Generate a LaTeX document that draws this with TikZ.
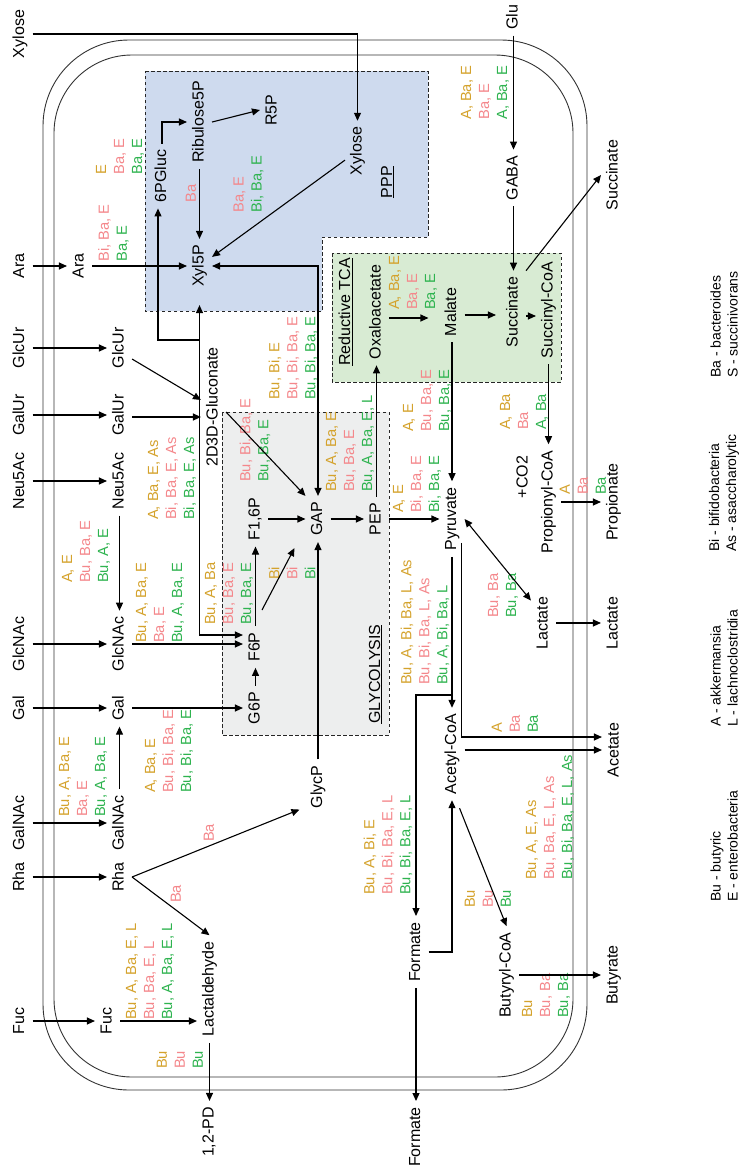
\documentclass[tikz,border=0pt]{standalone}
\usepackage{fontspec}
\setmainfont{Liberation Sans}
\usetikzlibrary{arrows.meta,calc}
\definecolor{cgold}{HTML}{D4A22C}
\definecolor{cpink}{HTML}{F4878B}
\definecolor{cgreen}{HTML}{2EB34F}
\definecolor{pppfill}{HTML}{CEDAEE}
\definecolor{tcafill}{HTML}{D8EBD3}
\definecolor{glyfill}{HTML}{EDEEEE}
\newcommand{\threelab}[3]{\textcolor{cgold}{#1}\\\textcolor{cpink}{#2}\\\textcolor{cgreen}{#3}}
\newcommand{\twolab}[2]{\textcolor{cpink}{#1}\\\textcolor{cgreen}{#2}}
\begin{document}
\begin{tikzpicture}[x=1pt,y=-1pt,
  lbl/.style={rotate=90, font=\fontsize{16}{19}\selectfont, inner xsep=6pt, inner ysep=5pt, text height=11.5pt, text depth=3.2pt},
  ulbl/.style={rotate=90, font=\fontsize{16}{19}\selectfont, inner sep=0pt},
  grp/.style={rotate=90, anchor=west, align=left, font=\fontsize{14.7}{18}\selectfont, inner sep=0pt},
  leg/.style={rotate=90, anchor=west, align=left, font=\fontsize{14}{17}\selectfont, inner sep=0pt},
  arr/.style={line width=1.1pt, -{Triangle[length=8pt,width=7pt]}},
  dbl/.style={line width=1.1pt, {Triangle[length=8pt,width=7pt]}-{Triangle[length=8pt,width=7pt]}},
  mem/.style={line width=0.9pt, black!80},
  boxline/.style={line width=0.8pt, dash pattern=on 3.5pt off 2.5pt, black!85},
]
\useasboundingbox (0,0) rectangle (739,1170);
% membranes
\draw[mem, rounded corners=86pt] (43,40) rectangle (587,1090);
\draw[mem, rounded corners=78pt] (54,55) rectangle (573,1077);
% pathway boxes
\draw[boxline, fill=pppfill] (145,71) -- (428,71) -- (428,237) -- (322,237) -- (322,311) -- (145,311) -- cycle;
\draw[boxline, fill=tcafill] (332,253) rectangle (561,382);
\draw[boxline, fill=glyfill] (222,412) rectangle (389,735);

% ---------- black labels ----------
\node[lbl] (XyloseO) at (20,34) {Xylose};
\node[lbl] (AraO) at (20,266) {Ara};
\node[lbl] (AraI) at (79.5,266) {Ara};
\node[lbl] (GlcUrO) at (20,348) {GlcUr};
\node[lbl] (GlcUrI) at (119.5,348) {GlcUr};
\node[lbl] (GalUrO) at (20,415) {GalUr};
\node[lbl] (GalUrI) at (119.5,415) {GalUr};
\node[lbl] (Neu5AcO) at (20,481) {Neu5Ac};
\node[lbl] (Neu5AcI) at (119.5,481) {Neu5Ac};
\node[lbl] (GlcNAcO) at (20,644) {GlcNAc};
\node[lbl] (GlcNAcI) at (119.5,644) {GlcNAc};
\node[lbl] (GalO) at (20,708) {Gal};
\node[lbl] (GalI) at (119.5,708) {Gal};
\node[lbl] (GalNAcO) at (20,823) {GalNAc};
\node[lbl] (GalNAcI) at (119.5,823) {GalNAc};
\node[lbl] (RhaO) at (20,877) {Rha};
\node[lbl] (RhaI) at (119.5,877) {Rha};
\node[lbl] (FucO) at (20,1021) {Fuc};
\node[lbl] (FucI) at (107.5,1021) {Fuc};
\node[lbl] (XyloseI) at (357.5,151) {Xylose};
\node[lbl] (Xyl5P) at (199.5,266) {Xyl5P};
\node[lbl] (Ribulose5P) at (199.5,122) {Ribulose5P};
\node[lbl] (PGluc) at (162,176) {6PGluc};
\node[lbl] (R5P) at (272.5,110) {R5P};
\node[lbl] (D2D3) at (213.5,407) {2D3D-Gluconate};
\node[lbl] (G6P) at (255.5,708) {G6P};
\node[lbl] (F6P) at (255.5,647) {F6P};
\node[lbl] (F16P) at (255.5,519) {F1,6P};
\node[lbl] (GAP) at (318,519) {GAP};
\node[lbl] (GlycP) at (318,787) {GlycP};
\node[lbl] (PEP) at (376.5,519) {PEP};
\node[lbl] (Oxalo) at (376.5,312) {Oxaloacetate};
\node[lbl] (Malate) at (452,312) {Malate};
\node[lbl] (Pyr) at (452,519) {Pyruvate};
\node[lbl] (SuccI) at (513.5,312) {Succinate};
\node[lbl] (SuccCoA) at (548.5,310) {Succinyl-CoA};
\node[lbl] (Glu) at (513.5,17) {Glu};
\node[lbl] (GABA) at (513.5,178) {GABA};
\node[lbl] (SuccO) at (613.5,175) {Succinate};
\node[lbl] (PropCoA) at (548.5,502) {Propionyl-CoA};
\node[lbl] (CO2) at (523.5,477) {+CO2};
\node[lbl] (PropO) at (613.5,502) {Propionate};
\node[lbl] (LactI) at (543.5,623) {Lactate};
\node[lbl] (LactO) at (613.5,623) {Lactate};
\node[lbl] (Acetate) at (614.5,750) {Acetate};
\node[lbl] (AcCoA) at (452,754) {Acetyl-CoA};
\node[lbl] (FormI) at (416,952) {Formate};
\node[lbl] (FormO) at (416,1137) {Formate};
\node[lbl] (ButCoA) at (506.5,975) {Butyryl-CoA};
\node[lbl] (ButO) at (613.5,975) {Butyrate};
\node[lbl] (LactAld) at (209.5,989) {Lactaldehyde};
\node[lbl] (PD) at (209.5,1132) {1,2-PD};
\node[ulbl] (PPP) at (387.5,182) {\underline{PPP}};
\node[ulbl] (GLY) at (375.5,674) {\underline{GLYCOLYSIS}};
\node[ulbl] (TCA) at (345.5,312) {\underline{Reductive TCA}};

% ---------- coloured enzyme labels ----------
\node[grp] (g1) at (485,120) {\threelab{A, Ba, E}{Ba, E}{A, Ba, E}};
\node[grp] (g2) at (120,175) {\threelab{E}{Ba, E}{Ba, E}};
\node[grp] (g3) at (113.5,262) {\twolab{Bi, Ba, E}{Ba, E}};
\node[grp] (g4) at (191,203) {\textcolor{cpink}{Ba}};
\node[grp] (g5) at (248.5,213) {\twolab{Ba, E}{Bi, Ba, E}};
\node[grp] (g6) at (172,520) {\threelab{A, Ba, E, As}{Bi, Ba, E, As}{Bi, Ba, E, As}};
\node[grp] (g7) at (86,583) {\threelab{A, E}{Bu, Ba, E}{Bu, A, E}};
\node[grp] (g8) at (83,817) {\threelab{Bu, A, Ba, E}{Ba, E}{Bu, A, Ba, E}};
\node[grp] (g9) at (169,793) {\threelab{A, Ba, E}{Bu, Bi, Ba, E}{Bu, Bi, Ba, E}};
\node[grp] (g10) at (160,643) {\threelab{Bu, A, Ba, E}{Ba, E}{Bu, A, Ba, E}};
\node[grp] (g11) at (229,625) {\threelab{Bu, A, Ba}{Bu, Ba, E}{Bu, Ba, E}};
\node[grp] (g12) at (292,580) {\threelab{Bi}{Bi}{Bi}};
\node[grp] (g13) at (255,482) {\twolab{Bu, Bi, Ba, E}{Bu, Ba, E}};
\node[grp] (g14) at (293,400) {\threelab{Bu, Bi, E}{Bu, Bi, Ba, E}{Bu, Bi, Ba, E}};
\node[grp] (g15) at (350,492) {\threelab{Bu, A, Ba, E}{Bu, Ba, E}{Bu, A, Ba, E, L}};
\node[grp] (g16) at (417,513) {\threelab{A, E}{Bi, Ba, E}{Bi, Ba, E}};
\node[grp] (g17) at (427,432) {\threelab{A, E}{Bu, Ba, E}{Bu, Ba, E}};
\node[grp] (g18) at (413,310) {\threelab{A, Ba, E}{Ba, E}{Ba, E}};
\node[grp] (g19) at (524,430) {\threelab{A, Ba}{Ba}{A, Ba}};
\node[grp] (g20) at (583,495) {\threelab{A}{Ba}{Ba}};
\node[grp] (g21) at (503,618) {\twolab{Bu, Ba}{Bu, Ba}};
\node[grp] (g22) at (515,733) {\threelab{A}{Ba}{Ba}};
\node[grp] (g23) at (425,685) {\threelab{Bu, A, Bi, Ba, L, As}{Bu, Bi, Ba, L, As}{Bu, A, Bi, Ba, L}};
\node[grp] (g24) at (388,895) {\threelab{Bu, A, Bi, E}{Bu, Bi, Ba, E, L}{Bu, Bi, Ba, E, L}};
\node[grp] (g25) at (488,908) {\threelab{Bu}{Bu}{Bu}};
\node[grp] (g26) at (546,1018) {\threelab{Bu}{Bu, Ba}{Bu, Ba}};
\node[grp] (g27) at (550,880) {\threelab{Bu, A, E, As}{Bu, Ba, E, L, As}{Bu, Bi, Ba, E, L, As}};
\node[grp] (g28) at (150,1020) {\threelab{Bu, A, Ba, E, L}{Bu, Ba, E, L}{Bu, A, Ba, E, L}};
\node[grp] (g29) at (180,1069) {\threelab{Bu}{Bu}{Bu}};
\node[grp] (g30) at (209,842) {\textcolor{cpink}{Ba}};
\node[grp] (g31) at (176,903) {\textcolor{cpink}{Ba}};

% ---------- legend ----------
\node[leg] (lg1) at (724,378) {Ba - bacteroides\\S - succinivorans};
\node[leg] (lg2) at (724,552) {Bi - bifidobacteria\\As - asaccharolytic};
\node[leg] (lg3) at (724,727) {A - akkermansia\\L - lachnoclostridia};
\node[leg] (lg4) at (724,902) {Bu - butyric\\E - enterobacteria};

% ---------- connectors ----------
\draw[arr] (XyloseO.south) -| (XyloseI.east);
\foreach \n in {Ara,GlcUr,GalUr,Neu5Ac,GlcNAc,Gal,GalNAc,Rha,Fuc}
  \draw[arr] (\n O) -- (\n I);
\draw[arr] (AraI) -- (Xyl5P);
\draw[arr] (Ribulose5P) -- (Xyl5P);
\draw[arr] (XyloseI) -- (Xyl5P);
\draw[dbl] (GAP.east) |- (Xyl5P.south);
\draw[dbl] ([yshift=12pt]F6P.north) -| ([yshift=-12pt]Xyl5P.west);
\coordinate (j1) at (199.5,340);
\draw[arr] (j1) -| ([xshift=-4pt]PGluc.west);
\draw[arr] (PGluc.east) |- (Ribulose5P.north);
\draw[arr] (Ribulose5P.south) -- (R5P.north);
\draw[arr] ([yshift=-11pt]GlcUrI.south) -- ([yshift=7pt]D2D3.north);
\draw[arr] ([yshift=-2pt]GalUrI.south) -- ([yshift=-2pt]GalUrI.south -| D2D3.north);
\draw[arr] ([yshift=-5pt]D2D3.south) -- (GAP.north east);
\draw[arr] (Neu5AcI) -- (GlcNAcI);
\draw[arr] (GalNAcI) -- (GalI);
\draw[arr] (GlcNAcI.south) -- (GlcNAcI.south -| F6P.north);
\draw[arr] (GalI) -- (G6P);
\draw[arr] (G6P) -- (F6P);
\draw[arr] (F6P) -- (F16P);
\draw[arr] (F16P) -- (GAP);
\coordinate (fgs) at (262,610);
\draw[arr] (fgs) -- ($(GAP.north west)+(-11,6)$);
\draw[arr] (GAP) -- (PEP);
\draw[arr] (PEP) -- (Pyr);
\draw[arr] (PEP) -- (Oxalo);
\draw[arr, shorten >=11pt] ([yshift=-6pt]Oxalo.south) -- ([yshift=-6pt]Malate.north);
\draw[arr, shorten >=5pt] ([yshift=-3pt]Malate.south) -- ([yshift=-3pt]SuccI.north);
\draw[arr] ([yshift=-4pt]SuccI.south) -- ([yshift=-4pt]SuccI.south -| SuccCoA.north);
\draw[arr] (Glu) -- (GABA);
\draw[arr] (GABA) -- (SuccI);
\draw[arr] (SuccI.south east) -- (SuccO.north);
\draw[arr] (SuccCoA) -- (PropCoA);
\draw[arr] (PropCoA) -- (PropO);
\draw[arr] (Malate) -- (Pyr);
\draw[dbl] (Pyr.south) -- ([yshift=-10pt]LactI.north east);
\draw[arr] (LactI) -- (LactO);
\draw[arr] ([xshift=-3pt,yshift=14pt]Pyr.south west) |- ([yshift=13pt]Acetate.north);
\draw[arr] (AcCoA.south |- Acetate.north) -- (Acetate.north);
\draw[arr] (Pyr) -- (AcCoA);
\coordinate (br) at (452,695);
\draw[arr] (br) -| (FormI.east);
\draw[arr] (FormI.south) -| (AcCoA.west);
\draw[arr] (FormI) -- (FormO);
\draw[arr] ([xshift=-5pt,yshift=-8pt]AcCoA.south west) -- (ButCoA.east);
\draw[arr] (ButCoA) -- (ButO);
\draw[arr] (GlycP) -- (GAP);
\draw[arr] (RhaI.south) -- ([xshift=-6pt,yshift=5pt]GlycP.north west);
\draw[arr] (RhaI.south) -- (LactAld.east);
\draw[arr] (FucI.south) -- (FucI.south -| LactAld.north);
\draw[arr] (LactAld) -- (PD);
\end{tikzpicture}
\end{document}
